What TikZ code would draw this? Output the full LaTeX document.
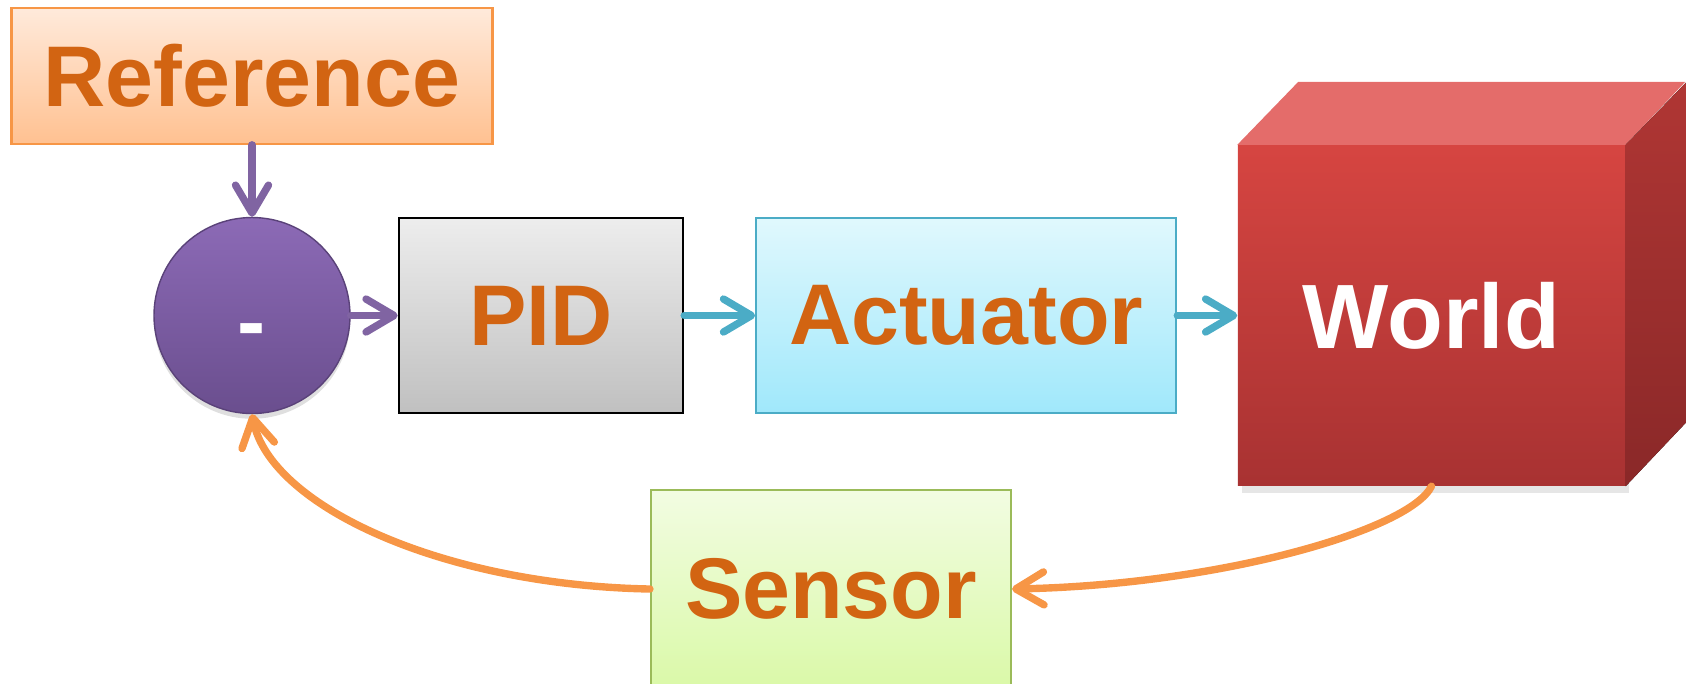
\documentclass[tikz,border=0pt]{standalone}
\usepackage{fontspec}
\setmainfont{Liberation Sans}
\usepackage{tikz}
\usetikzlibrary{positioning,arrows.meta,shadows}
\definecolor{refline}{RGB}{247,150,70}
\definecolor{reftop}{RGB}{255,234,219}
\definecolor{refbot}{RGB}{255,193,145}
\definecolor{sumtop}{RGB}{140,106,182}
\definecolor{sumbot}{RGB}{106,78,142}
\definecolor{sumline}{RGB}{128,100,162}
\definecolor{pidtop}{RGB}{237,237,237}
\definecolor{pidbot}{RGB}{192,192,192}
\definecolor{acttop}{RGB}{224,248,253}
\definecolor{actbot}{RGB}{160,232,251}
\definecolor{actline}{RGB}{75,172,198}
\definecolor{sentop}{RGB}{242,252,226}
\definecolor{senbot}{RGB}{218,249,168}
\definecolor{senline}{RGB}{155,187,89}
\definecolor{worldtop}{RGB}{214,69,65}
\definecolor{worldbot}{RGB}{168,50,50}
\definecolor{worldlid}{RGB}{228,108,106}
\definecolor{sidetop}{RGB}{176,54,52}
\definecolor{sidebot}{RGB}{138,40,40}
\definecolor{labeltxt}{RGB}{210,100,18}

\begin{document}
\begin{tikzpicture}[
    block/.style={draw, line width=0.6pt, minimum height=1.95cm, align=center, font=\fontsize{24.5}{29}\selectfont\bfseries, text=labeltxt},
    arrow/.style={line width=2.1pt, line cap=round, -{Straight Barb[length=2.8mm, width=3.3mm, round]}}
]
\useasboundingbox (0,0) rectangle (16.86,-6.83);

% Summing junction
\node[circle, minimum size=1.96cm, top color=sumtop, bottom color=sumbot, draw=sumbot!85!black, line width=0.4pt,
      drop shadow={opacity=0.25, shadow xshift=0pt, shadow yshift=-1.5pt},
      text=white, text height=20pt, text depth=0pt, font=\fontsize{24}{28}\selectfont\bfseries] (sum) at (2.52,-3.155) {-};

% Setpoint on top
\node[block, draw=refline, top color=reftop, bottom color=refbot, minimum width=4.81cm, minimum height=1.36cm, above=0.72cm of sum] (ref) {Reference};

% Forward path
\node[block, draw=black, line width=0.7pt, top color=pidtop, bottom color=pidbot, minimum width=2.84cm, right=0.47cm of sum] (pid) {PID};
\node[block, draw=actline, top color=acttop, bottom color=actbot, minimum width=4.2cm, right=0.71cm of pid] (act) {Actuator};

% Plant as a cube
\node[minimum width=3.87cm, minimum height=3.4cm, top color=worldtop, bottom color=worldbot,
      drop shadow={opacity=0.2, shadow xshift=1pt, shadow yshift=-2pt},
      text=white, font=\fontsize{26}{31}\selectfont\bfseries, right=0.6cm of act] (world) {World};
\fill[worldlid] (world.north west) -- ++(0.61,0.63) -- ++(3.87,0) -- (world.north east) -- cycle;
\fill[top color=sidetop, bottom color=sidebot] (world.north east) -- ++(0.61,0.63) -- ++(0,-3.4) -- (world.south east) -- cycle;

% Feedback sensor
\node[block, draw=senline, top color=sentop, bottom color=senbot, minimum width=3.6cm, minimum height=1.98cm] (sensor) at (8.31,-5.89) {Sensor};

% Forward arrows
\draw[arrow, sumline] (ref) -- (sum);
\draw[arrow, sumline] (sum) -- (pid);
\draw[arrow, actline] (pid) -- (act);
\draw[arrow, actline] (act) -- (world);

% Feedback arrows
\draw[arrow, refline] (world.south) .. controls (14.1,-5.3) and (12.2,-5.85) .. (sensor.east);
\draw[arrow, refline] (sensor.west) .. controls (4.4,-5.85) and (2.7,-5.05) .. (sum.south);

\end{tikzpicture}
\end{document}
